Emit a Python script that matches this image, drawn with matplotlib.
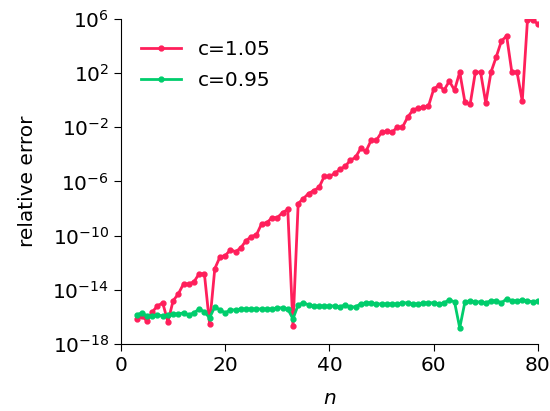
import numpy as np
import matplotlib
matplotlib.use("Agg")
import matplotlib.pyplot as plt
from matplotlib.ticker import FixedLocator, LogFormatterMathtext, NullLocator

n = list(range(3, 81))

# log10 of relative error
log_err_105 = [-16.15, -15.93, -16.30, -15.63, -15.19, -14.96, -16.37, -14.81, -14.30, -13.56,
               -13.56, -13.41, -12.81, -12.81, -16.52, -12.44, -11.56, -11.48, -11.04, -11.19,
               -10.89, -10.37, -10.07, -9.93, -9.11, -9.04, -8.67, -8.67, -8.30, -8.07,
               -16.67, -7.63, -7.26, -6.89, -6.67, -6.44, -5.63, -5.63, -5.41, -5.11,
               -4.89, -4.44, -4.22, -3.56, -3.78, -2.96, -2.96, -2.37, -2.30, -2.37,
               -2.00, -2.00, -1.26, -0.74, -0.59, -0.52, -0.44, 0.81, 1.11, 0.74,
               1.41, 0.74, 2.07, -0.15, -0.30, 2.07, 2.07, -0.22, 2.07, 3.19,
               4.37, 4.74, 2.07, 2.07, -0.07, 5.93, 5.93, 5.63]

log_err_095 = [-15.85, -15.70, -15.93, -15.93, -15.85, -15.93, -15.85, -15.78, -15.78, -15.70,
               -15.85, -15.70, -15.41, -15.63, -16.07, -15.26, -15.48, -15.70, -15.48, -15.48,
               -15.41, -15.41, -15.41, -15.41, -15.41, -15.41, -15.41, -15.33, -15.33, -15.41,
               -16.15, -15.11, -14.96, -15.11, -15.19, -15.19, -15.19, -15.19, -15.19, -15.26,
               -15.11, -15.26, -15.26, -15.04, -14.96, -14.96, -15.04, -15.04, -15.04, -15.04,
               -15.04, -14.96, -14.96, -15.04, -15.04, -14.96, -14.96, -14.96, -15.04, -14.96,
               -14.74, -14.89, -16.81, -14.89, -14.81, -14.89, -14.89, -14.96, -14.81, -14.81,
               -14.96, -14.67, -14.81, -14.81, -14.74, -14.81, -14.89, -14.81]

labels = ["c=1.05", "c=0.95"]
colors = ["#ff1f5b", "#00cd6c"]
yticks = [1e-18, 1e-14, 1e-10, 1e-6, 1e-2, 1e2, 1e6]
xticks = [0, 20, 40, 60, 80]

fig = plt.figure(figsize=(5.5, 4.11), dpi=100)
ax = fig.add_axes([0.22, 0.163, 0.758, 0.791])

for logs, lab, col in zip([log_err_105, log_err_095], labels, colors):
    ax.plot(n, 10.0 ** np.array(logs), color=col, lw=2, marker="o", ms=3.5, label=lab)

ax.set_yscale("log")
ax.set_ylim(1e-18, 1e6)
ax.set_xlim(0, 80)
ax.yaxis.set_major_locator(FixedLocator(yticks))
ax.yaxis.set_major_formatter(LogFormatterMathtext())
ax.yaxis.set_minor_locator(NullLocator())
ax.set_xticks(xticks)

for s in ["top", "right"]:
    ax.spines[s].set_visible(False)
ax.tick_params(labelsize=14.5, length=5)
ax.set_xlabel("$n$", fontsize=14.5, labelpad=10)
ax.set_ylabel("relative error", fontsize=14.5, labelpad=11)
ax.legend(loc="upper left", frameon=False, fontsize=14.5, labelspacing=0.58,
          bbox_to_anchor=(0.005, 0.99))

fig.savefig("out.png", dpi=100)
